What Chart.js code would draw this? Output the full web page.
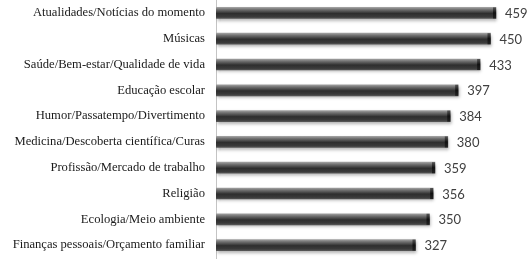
<!DOCTYPE html>
<html>
<head>
<meta charset="utf-8">
<script src="https://cdn.jsdelivr.net/npm/chart.js@4.4.1/dist/chart.umd.min.js"></script>
<style>
  html, body { margin: 0; padding: 0; background: #fff; }
  #wrap { width: 531px; height: 276px; position: relative; }
</style>
</head>
<body>
<div id="wrap"><canvas id="chart"></canvas></div>
<script>
"use strict";

var categories = [
    "Atualidades/Notícias do momento",
    "Músicas",
    "Saúde/Bem-estar/Qualidade de vida",
    "Educação escolar",
    "Humor/Passatempo/Divertimento",
    "Medicina/Descoberta científica/Curas",
    "Profissão/Mercado de trabalho",
    "Religião",
    "Ecologia/Meio ambiente",
    "Finanças pessoais/Orçamento familiar"
];
var values = [459, 450, 433, 397, 384, 380, 359, 356, 350, 327];
var xMin = 0;
var xMax = 500;

var BAR_H = 11;

// cylinder-like shading for each bar
function barFill(context) {
    var chart = context.chart;
    if (!chart.chartArea) { return '#333'; }
    var y = chart.scales.y.getPixelForValue(context.dataIndex);
    var g = chart.ctx.createLinearGradient(0, y - BAR_H / 2, 0, y + BAR_H / 2);
    g.addColorStop(0, '#a0a0a0');
    g.addColorStop(0.2, '#707070');
    g.addColorStop(0.55, '#2e2e2e');
    g.addColorStop(0.85, '#3a3a3a');
    g.addColorStop(1, '#555555');
    return g;
}

var barShadow = {
    id: 'barShadow',
    beforeDatasetDraw: function (chart) {
        var c = chart.ctx;
        c.save();
        c.shadowColor = 'rgba(0,0,0,0.30)';
        c.shadowOffsetX = 1;
        c.shadowOffsetY = 2;
        c.shadowBlur = 3;
    },
    afterDatasetDraw: function (chart) {
        chart.ctx.restore();
    }
};

var barEndsAndLabels = {
    id: 'barEndsAndLabels',
    afterDatasetsDraw: function (chart) {
        var c = chart.ctx;
        var meta = chart.getDatasetMeta(0);
        c.save();
        meta.data.forEach(function (bar, i) {
            // darker end cap
            var g = c.createLinearGradient(0, bar.y - BAR_H / 2, 0, bar.y + BAR_H / 2);
            g.addColorStop(0, '#555');
            g.addColorStop(0.5, '#111');
            g.addColorStop(1, '#222');
            c.fillStyle = g;
            c.fillRect(bar.x - 3, bar.y - BAR_H / 2, 3, BAR_H);

            c.fillStyle = '#404040';
            c.font = '13px Lato, "Liberation Sans", sans-serif';
            c.textAlign = 'left';
            c.textBaseline = 'middle';
            c.fillText(values[i], bar.x + 9, bar.y + 1);
        });
        c.restore();
    }
};

var ctx = document.getElementById('chart').getContext('2d');

var myChart = new Chart(ctx, {
    type: 'bar',
    data: {
        labels: categories,
        datasets: [{
            data: values,
            backgroundColor: barFill,
            borderWidth: 0,
            barThickness: BAR_H
        }]
    },
    options: {
        indexAxis: 'y',
        responsive: true,
        maintainAspectRatio: false,
        animation: false,
        layout: {
            padding: { top: 0, right: 10, bottom: 18, left: 0 }
        },
        plugins: {
            legend: { display: false },
            tooltip: { enabled: false }
        },
        scales: {
            x: {
                display: false,
                min: xMin,
                max: xMax
            },
            y: {
                afterFit: function (scale) {
                    scale.width = 216;
                    scale.paddingTop = 0;
                    scale.paddingBottom = 0;
                },
                grid: { display: false, drawTicks: false },
                border: { display: true, color: '#c4c4c4', width: 1 },
                ticks: {
                    padding: 11,
                    color: '#1a1a1a',
                    font: { family: '"Liberation Serif", "Times New Roman", serif', size: 12.6 }
                }
            }
        }
    },
    plugins: [barShadow, barEndsAndLabels]
});
</script>
</body>
</html>
